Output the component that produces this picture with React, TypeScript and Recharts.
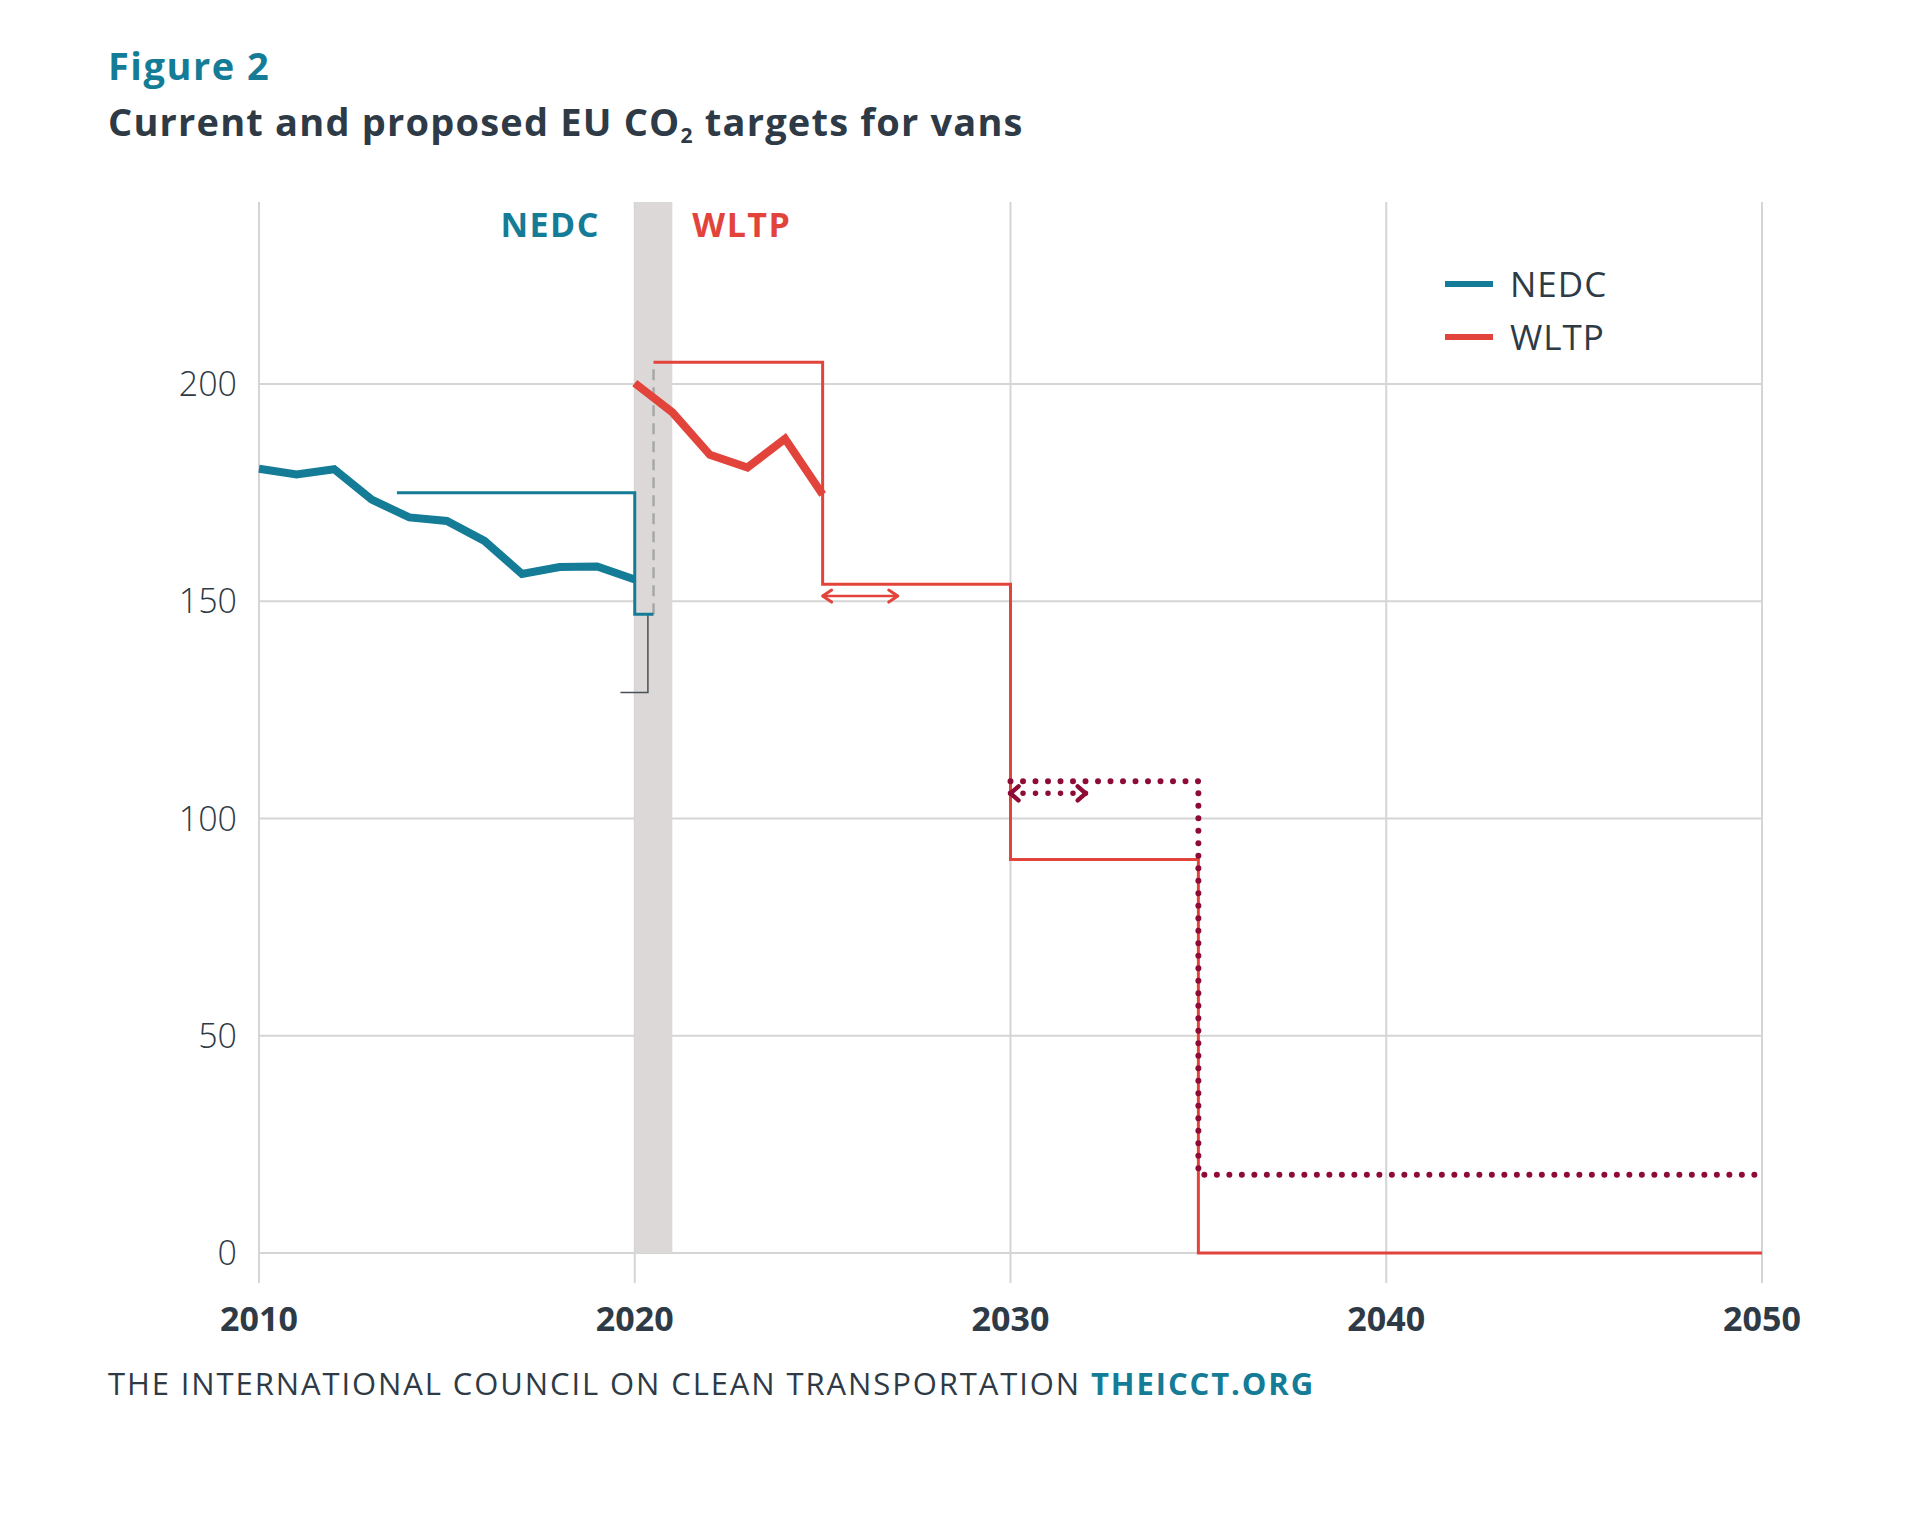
import React from 'react';
import { LineChart, Line, XAxis, YAxis, CartesianGrid, ReferenceArea, ReferenceDot } from 'recharts';

// ---------- data ----------
const xTicks = [2010, 2020, 2030, 2040, 2050];
const yTicks = [0, 50, 100, 150, 200];
const Y_MIN = -6.9;
const Y_MAX = 241.9;

const nedcMeasured = [
  { x: 2010, y: 180.5 }, { x: 2011, y: 179.2 }, { x: 2012, y: 180.4 }, { x: 2013, y: 173.4 },
  { x: 2014, y: 169.3 }, { x: 2015, y: 168.5 }, { x: 2016, y: 163.9 }, { x: 2017, y: 156.3 },
  { x: 2018, y: 157.9 }, { x: 2019, y: 158.0 }, { x: 2020, y: 155.0 },
];
const wltpMeasured = [
  { x: 2020, y: 200.2 }, { x: 2021, y: 193.5 }, { x: 2022, y: 183.7 },
  { x: 2023, y: 180.8 }, { x: 2024, y: 187.4 }, { x: 2025, y: 174.6 },
];
const nedcTarget = [
  { x: 2013.67, y: 175 }, { x: 2020, y: 175 }, { x: 2020, y: 147 }, { x: 2020.5, y: 147 },
];
const conversionBracket = [
  { x: 2020.35, y: 147 }, { x: 2020.35, y: 129 }, { x: 2019.62, y: 129 },
];
const conversionDashed = [{ x: 2020.5, y: 147 }, { x: 2020.5, y: 205 }];
const wltpTarget = [
  { x: 2020.5, y: 205 }, { x: 2025, y: 205 }, { x: 2025, y: 153.9 }, { x: 2030, y: 153.9 },
  { x: 2030, y: 90.6 }, { x: 2035, y: 90.6 }, { x: 2035, y: 0 }, { x: 2050, y: 0 },
];
const proposedTarget = [
  { x: 2030, y: 108.6 }, { x: 2035, y: 108.6 }, { x: 2035, y: 18 }, { x: 2050, y: 18 },
];
const arrowCurrent = [{ x: 2025, y: 151.2 }, { x: 2027, y: 151.2 }];
const arrowProposed = [{ x: 2030, y: 105.8 }, { x: 2032, y: 105.8 }];
const band = { x1: 2020, x2: 2021 };
const regimeLabels = [
  { name: 'NEDC', x: 2017.75, y: 236.6, color: '#147c96' },
  { name: 'WLTP', x: 2022.85, y: 236.6, color: '#e2443b' },
];
const legendItems = [
  { name: 'NEDC', color: '#147c96' },
  { name: 'WLTP', color: '#e2443b' },
];

// ---------- style ----------
const TEAL = '#147c96';
const RED = '#e2443b';
const DARKRED = '#8e0b36';
const TEXT = '#2e3a46';
const FONT = '"Open Sans", "Noto Sans", sans-serif';

const chevron = (color: string, w: number, len: number, half: number) => (props: any) => {
  const { cx, cy, index } = props;
  if (cx == null || cy == null) return <g key={`c-${index}`} />;
  const dir = index === 0 ? 1 : -1;
  const d = `M ${cx + dir * len} ${cy - half} L ${cx} ${cy} L ${cx + dir * len} ${cy + half}`;
  return (
    <path key={`c-${index}`} d={d} fill="none" stroke={color} strokeWidth={w}
      strokeLinecap="round" strokeLinejoin="round" />
  );
};

export default function App() {
  return (
    <div style={{ position: 'absolute', left: 0, top: 0, width: 1920, height: 1514, background: '#fff', fontFamily: FONT }}>
      <div style={{ position: 'absolute', left: 108, top: 41, fontSize: 38, fontWeight: 700, color: TEAL, lineHeight: '48px', letterSpacing: 1.5 }}>
        Figure 2
      </div>
      <div style={{ position: 'absolute', left: 108, top: 96, fontSize: 38, fontWeight: 700, color: TEXT, lineHeight: '50px', whiteSpace: 'nowrap', letterSpacing: 1.2 }}>
        Current and proposed EU CO<sub style={{ fontSize: 21, verticalAlign: '-0.35em' }}>2</sub> targets for vans
      </div>

      <div style={{ position: 'absolute', left: 0, top: 0 }}>
        <LineChart width={1920} height={1514} margin={{ top: 202, right: 158, bottom: 171, left: 179 }}>
          <CartesianGrid stroke="#d5d5d5" strokeWidth={2} horizontalValues={yTicks} verticalValues={xTicks} />
          <ReferenceArea x1={band.x1} x2={band.x2} y1={0} y2={Y_MAX} fill="#dcd8d8" fillOpacity={1} stroke="none" />
          <XAxis type="number" dataKey="x" domain={[2010, 2050]} ticks={xTicks} axisLine={false} tickLine={false}
            height={60} tickMargin={18} allowDuplicatedCategory={false}
            tick={{ fill: TEXT, fontSize: 34, fontWeight: 700, fontFamily: FONT }} />
          <YAxis type="number" domain={[Y_MIN, Y_MAX]} ticks={yTicks} axisLine={false} tickLine={false}
            width={80} tickMargin={16}
            tick={{ fill: TEXT, fontSize: 34, fontWeight: 300, fontFamily: FONT }} />

          <Line data={conversionDashed} dataKey="y" stroke="#a8a8a8" strokeWidth={2.5} strokeDasharray="11 7" dot={false} isAnimationActive={false} />
          <Line data={conversionBracket} dataKey="y" stroke="#4a4f55" strokeWidth={1.5} dot={false} isAnimationActive={false} />
          <Line data={nedcTarget} dataKey="y" stroke={TEAL} strokeWidth={3} dot={false} strokeLinejoin="miter" isAnimationActive={false} />
          <Line data={wltpTarget} dataKey="y" stroke={RED} strokeWidth={3} dot={false} strokeLinejoin="miter" isAnimationActive={false} />
          <Line data={proposedTarget} dataKey="y" stroke={DARKRED} strokeWidth={6} strokeDasharray="0 12.5" strokeLinecap="round" dot={false} isAnimationActive={false} />
          <Line data={arrowCurrent} dataKey="y" stroke={RED} strokeWidth={2.5} dot={chevron(RED, 3, 9, 6)} isAnimationActive={false} />
          <Line data={arrowProposed} dataKey="y" stroke={DARKRED} strokeWidth={5.5} strokeDasharray="0 12.5" strokeLinecap="round" dot={chevron(DARKRED, 4.5, 8, 7)} isAnimationActive={false} />
          <Line data={nedcMeasured} dataKey="y" stroke={TEAL} strokeWidth={8} dot={false} strokeLinejoin="miter" isAnimationActive={false} />
          <Line data={wltpMeasured} dataKey="y" stroke={RED} strokeWidth={8} dot={false} strokeLinejoin="miter" isAnimationActive={false} />

          {regimeLabels.map((l) => (
            <ReferenceDot key={l.name} x={l.x} y={l.y} r={0} fill="none" stroke="none"
              label={{ value: l.name, position: 'center', fill: l.color, fontSize: 34, fontWeight: 700, fontFamily: FONT, letterSpacing: 1.5 }} />
          ))}
        </LineChart>
      </div>

      <div style={{ position: 'absolute', left: 1445, top: 257 }}>
        {legendItems.map((it) => (
          <div key={it.name} style={{ display: 'flex', alignItems: 'center', height: 53 }}>
            <div style={{ width: 48, height: 6, background: it.color, marginRight: 17 }} />
            <span style={{ fontSize: 35, color: TEXT, fontWeight: 400, lineHeight: '53px', letterSpacing: 1 }}>{it.name}</span>
          </div>
        ))}
      </div>

      <div style={{ position: 'absolute', left: 108, top: 1362, fontSize: 31, color: TEXT, lineHeight: '42px', whiteSpace: 'nowrap', fontWeight: 400, letterSpacing: 1.9 }}>
        THE INTERNATIONAL COUNCIL ON CLEAN TRANSPORTATION <span style={{ color: TEAL, fontWeight: 700 }}>THEICCT.ORG</span>
      </div>
    </div>
  );
}
